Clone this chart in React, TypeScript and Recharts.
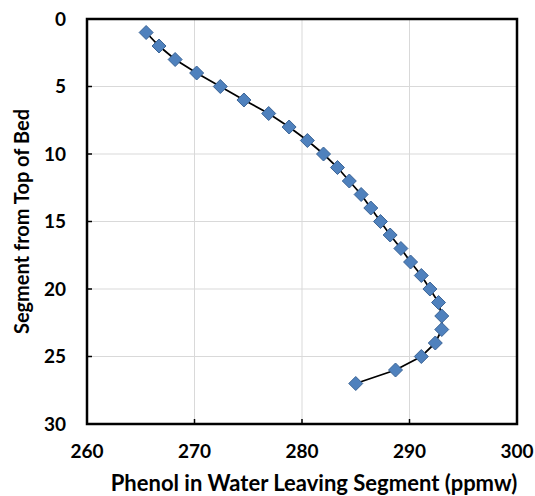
import React from "react";
import { CartesianGrid, ReferenceArea, Scatter, ScatterChart, XAxis, YAxis } from "recharts";

const segments = [1, 2, 3, 4, 5, 6, 7, 8, 9, 10, 11, 12, 13, 14, 15, 16, 17, 18, 19, 20, 21, 22, 23, 24, 25, 26, 27];
const phenolPpmw = [
  265.5, 266.7, 268.2, 270.2, 272.4, 274.6, 276.9, 278.8, 280.5, 282.0,
  283.3, 284.4, 285.5, 286.4, 287.3, 288.2, 289.2, 290.1, 291.1, 291.9,
  292.7, 293.0, 293.0, 292.4, 291.1, 288.7, 285.0,
];
const xTicks = [260, 270, 280, 290, 300];
const yTicks = [0, 5, 10, 15, 20, 25, 30];

const xTitle = "Phenol in Water Leaving Segment (ppmw)";
const yTitle = "Segment from Top of Bed";

const chartData = segments.map((seg, i) => ({ segment: seg, phenol: phenolPpmw[i] }));

const FONT = "Lato, 'Open Sans', sans-serif";

// rotated square marker like Excel's diamond
function Diamond(props: any) {
  const { cx, cy } = props;
  if (cx == null || cy == null) return null;
  const r = 7;
  return (
    <polygon
      points={`${cx},${cy - r} ${cx + r},${cy} ${cx},${cy + r} ${cx - r},${cy}`}
      fill="#4f81bd"
      stroke="#3b6496"
      strokeWidth={1}
    />
  );
}

export default function App() {
  return (
    <div style={{ position: "absolute", left: 0, top: 0, background: "#fff" }}>
      <ScatterChart
        width={535}
        height={496}
        margin={{ top: 19, right: 18, left: 0, bottom: 0 }}
        style={{ fontFamily: FONT }}
      >
        <CartesianGrid stroke="#d9d9d9" strokeWidth={1} />
        <XAxis
          type="number"
          dataKey="phenol"
          domain={[260, 300]}
          ticks={xTicks}
          height={72}
          axisLine={false}
          tickSize={-5}
          tickMargin={26}
          tickLine={{ stroke: "#000", strokeWidth: 1.5 }}
          tick={{ fill: "#000", fontSize: 19, fontWeight: 700 }}
          label={{
            content: (p: any) => {
              const vb = p.viewBox;
              return (
                <text
                  x={vb.x + vb.width / 2 + 12}
                  y={vb.y + vb.height - 5}
                  textAnchor="middle"
                  fontSize={22}
                  fontWeight={700}
                  fill="#000"
                  fontFamily={FONT}
                >
                  {xTitle}
                </text>
              );
            },
          }}
        />
        <YAxis
          type="number"
          dataKey="segment"
          domain={[0, 30]}
          ticks={yTicks}
          reversed
          width={87}
          axisLine={false}
          tickSize={-5}
          tickMargin={26}
          tickLine={{ stroke: "#000", strokeWidth: 1.5 }}
          tick={{ fill: "#000", fontSize: 19, fontWeight: 700 }}
          label={{
            content: (p: any) => {
              const vb = p.viewBox;
              const cx = 21;
              const cy = vb.y + vb.height / 2;
              return (
                <text
                  x={cx}
                  y={cy}
                  transform={`rotate(-90 ${cx} ${cy})`}
                  textAnchor="middle"
                  dominantBaseline="central"
                  fontSize={20}
                  fontWeight={700}
                  fill="#000"
                  fontFamily={FONT}
                >
                  {yTitle}
                </text>
              );
            },
          }}
        />
        <ReferenceArea x1={260} x2={300} y1={0} y2={30} fill="none" stroke="#000" strokeWidth={2.5} fillOpacity={0} />
        <Scatter
          data={chartData}
          line={{ stroke: "#000", strokeWidth: 1.75 }}
          shape={Diamond}
          isAnimationActive={false}
        />
      </ScatterChart>
    </div>
  );
}
